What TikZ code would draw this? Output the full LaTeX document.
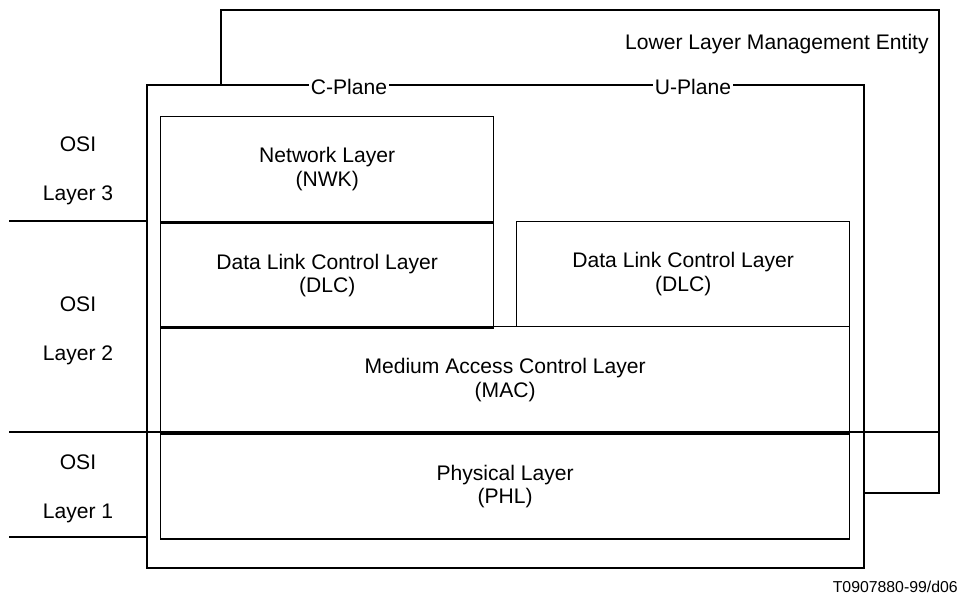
\documentclass[tikz,border=0pt]{standalone}
\usepackage{fontspec}
\setmainfont{Liberation Sans}
\usetikzlibrary{positioning}

\begin{document}
\begin{tikzpicture}[x=0.02cm,y=-0.02cm,node distance=0pt,
    every node/.style={font=\fontsize{12}{13.5}\selectfont},
    layerbox/.style={rectangle,draw,line width=0.8pt,align=center,inner sep=0pt,minimum height=2.1cm},
    halfbox/.style={layerbox,minimum width=6.66cm},
    fullbox/.style={layerbox,minimum width=13.78cm},
    planelabel/.style={fill=white,inner sep=1pt},
    osilabel/.style={align=center,inner sep=0pt}]
    \useasboundingbox (0,0) rectangle (960,596);

    % Lower layer management entity (behind)
    \draw[line width=0.6pt] (221,85) |- (939,10) |- (864,493);
    \node[anchor=east,inner sep=0pt] (llme) at (929,44) {Lower Layer Management Entity};

    % C-Plane / U-Plane frame
    \draw[line width=0.6pt] (147,85) rectangle (864,568);
    \node[planelabel] (cplane) at (349,87) {C-Plane};
    \node[planelabel] (uplane) at (693,87) {U-Plane};

    % Layers
    \node[halfbox,anchor=north west] (nwk) at (160,116) {Network Layer\\(NWK)};
    \node[halfbox,below=of nwk] (dlcc) {Data Link Control Layer\\(DLC)};
    \node[halfbox,anchor=north west] (dlcu) at (516,221) {Data Link Control Layer\\(DLC)};
    \node[fullbox,anchor=north west,minimum height=2.12cm] (mac) at (160,326) {Medium Access Control Layer\\(MAC)};
    \node[fullbox,below=of mac] (phl) {Physical Layer\\(PHL)};

    % OSI layer separators
    \draw[line width=0.6pt] (9,221) -- (147,221);
    \draw[line width=1.2pt] (9,432) -- (939,432);
    \draw[line width=0.6pt] (9,537) -- (147,537);

    % OSI labels
    \node[osilabel] (osi3) at (78,171) {OSI\\[14.4pt]Layer 3};
    \node[osilabel] (osi2) at (78,331) {OSI\\[14.4pt]Layer 2};
    \node[osilabel] (osi1) at (78,489) {OSI\\[14.4pt]Layer 1};

    \node[anchor=east,inner sep=0pt,font=\fontsize{9}{10}\selectfont] (ref) at (958,587) {T0907880-99/d06};
\end{tikzpicture}
\end{document}
